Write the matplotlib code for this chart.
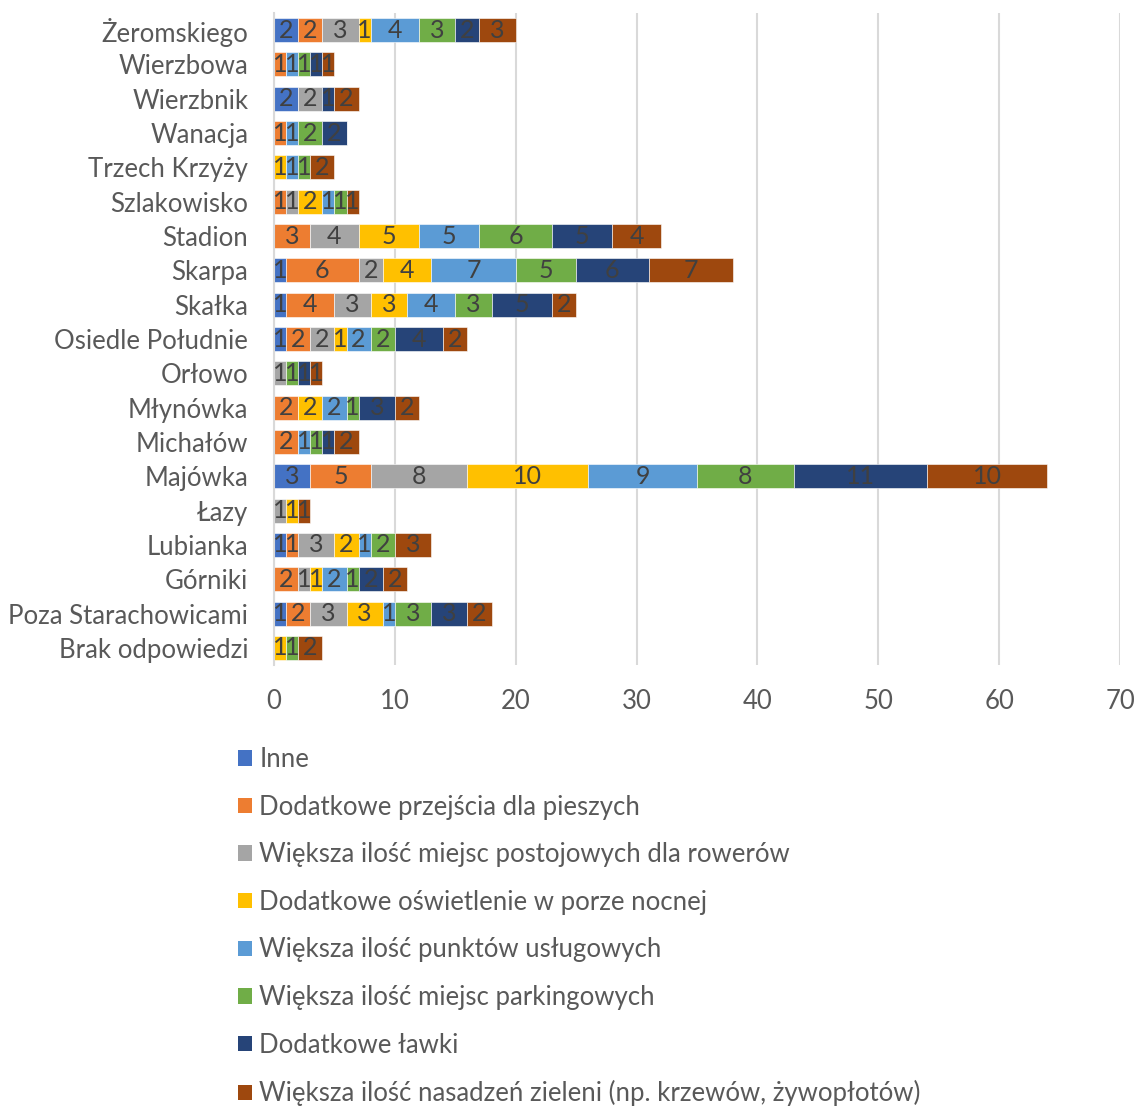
import matplotlib
matplotlib.use("Agg")
import matplotlib.pyplot as plt
import numpy as np
from matplotlib.patches import Patch
from matplotlib import font_manager

plt.rcParams['font.family'] = ['Lato', 'DejaVu Sans']

categories = ["Brak odpowiedzi", "Poza Starachowicami", "Górniki", "Lubianka", "Łazy",
              "Majówka", "Michałów", "Młynówka", "Orłowo", "Osiedle Południe", "Skałka",
              "Skarpa", "Stadion", "Szlakowisko", "Trzech Krzyży", "Wanacja", "Wierzbnik",
              "Wierzbowa", "Żeromskiego"]

series_names = ["Inne",
                "Dodatkowe przejścia dla pieszych",
                "Większa ilość miejsc postojowych dla rowerów",
                "Dodatkowe oświetlenie w porze nocnej",
                "Większa ilość punktów usługowych",
                "Większa ilość miejsc parkingowych",
                "Dodatkowe ławki",
                "Większa ilość nasadzeń zieleni (np. krzewów, żywopłotów)"]

# values per category (same order as categories)
inne        = [0, 1, 0, 1, 0, 3, 0, 0, 0, 1, 1, 1, 0, 0, 0, 0, 2, 0, 2]
przejscia   = [0, 2, 2, 1, 0, 5, 2, 2, 0, 2, 4, 6, 3, 1, 0, 1, 0, 1, 2]
rowery      = [0, 3, 1, 3, 1, 8, 0, 0, 1, 2, 3, 2, 4, 1, 0, 0, 2, 0, 3]
oswietlenie = [1, 3, 1, 2, 1, 10, 0, 2, 0, 1, 3, 4, 5, 2, 1, 0, 0, 0, 1]
uslugi      = [0, 1, 2, 1, 0, 9, 1, 2, 0, 2, 4, 7, 5, 1, 1, 1, 0, 1, 4]
parking     = [1, 3, 1, 2, 0, 8, 1, 1, 1, 2, 3, 5, 6, 1, 1, 2, 0, 1, 3]
lawki       = [0, 3, 2, 0, 0, 11, 1, 3, 1, 4, 5, 6, 5, 0, 0, 2, 1, 1, 2]
zielen      = [2, 2, 2, 3, 1, 10, 2, 2, 1, 2, 2, 7, 4, 1, 2, 0, 2, 1, 3]

series_values = [inne, przejscia, rowery, oswietlenie, uslugi, parking, lawki, zielen]
colors = ["#4472C4", "#ED7D31", "#A5A5A5", "#FFC000", "#5B9BD5", "#70AD47", "#264478", "#9E480E"]

# narrower face for the in-bar numbers (Gill Sans-like digits are narrow)
installed = {f.name for f in font_manager.fontManager.ttflist}
label_family = ['Liberation Sans Narrow', 'Lato'] if 'Liberation Sans Narrow' in installed else ['Lato']

W, H = 1137, 1109
fig = plt.figure(figsize=(W / 100, H / 100), dpi=100)
ax = fig.add_axes([274 / W, 1 - 665 / H, (1120 - 274) / W, (665 - 13) / H])

y = np.arange(len(categories))
left = np.zeros(len(categories))
for name, vals, col in zip(series_names, series_values, colors):
    vals = np.array(vals, dtype=float)
    bars = ax.barh(y, vals, left=left, height=0.7, color=col, label=name,
                   edgecolor='white', linewidth=0.4)
    labels = [str(int(v)) if v > 0 else "" for v in vals]
    ax.bar_label(bars, labels=labels, label_type='center', fontsize=18, color='#404040',
                 family=label_family)
    left += vals

ax.set_xlim(0, 70)
ax.set_ylim(-0.5, len(categories) - 0.5)
ax.set_xticks(np.arange(0, 71, 10))
ax.set_yticks(y)
ax.set_yticklabels(categories)
ax.tick_params(axis='both', length=0, labelsize=18.5, colors='#595959')
ax.tick_params(axis='x', pad=17)
ax.tick_params(axis='y', pad=18.5)
ax.xaxis.grid(True, color='#D9D9D9', linewidth=1.5)
ax.set_axisbelow(True)
for s in ['top', 'right', 'bottom']:
    ax.spines[s].set_visible(False)
ax.spines['left'].set_color('#D9D9D9')
ax.spines['left'].set_linewidth(1.5)

handles = [Patch(facecolor=c, edgecolor='none') for c in colors]
leg = fig.legend(handles, series_names, loc='upper left',
                 bbox_to_anchor=(238 / W, 1 - 747 / H), frameon=False,
                 fontsize=18.5, labelspacing=0.88, handlelength=0.55, handleheight=0.55,
                 handletextpad=0.28, borderaxespad=0, borderpad=0)
for t in leg.get_texts():
    t.set_color('#595959')

fig.savefig("out.png", dpi=100)
